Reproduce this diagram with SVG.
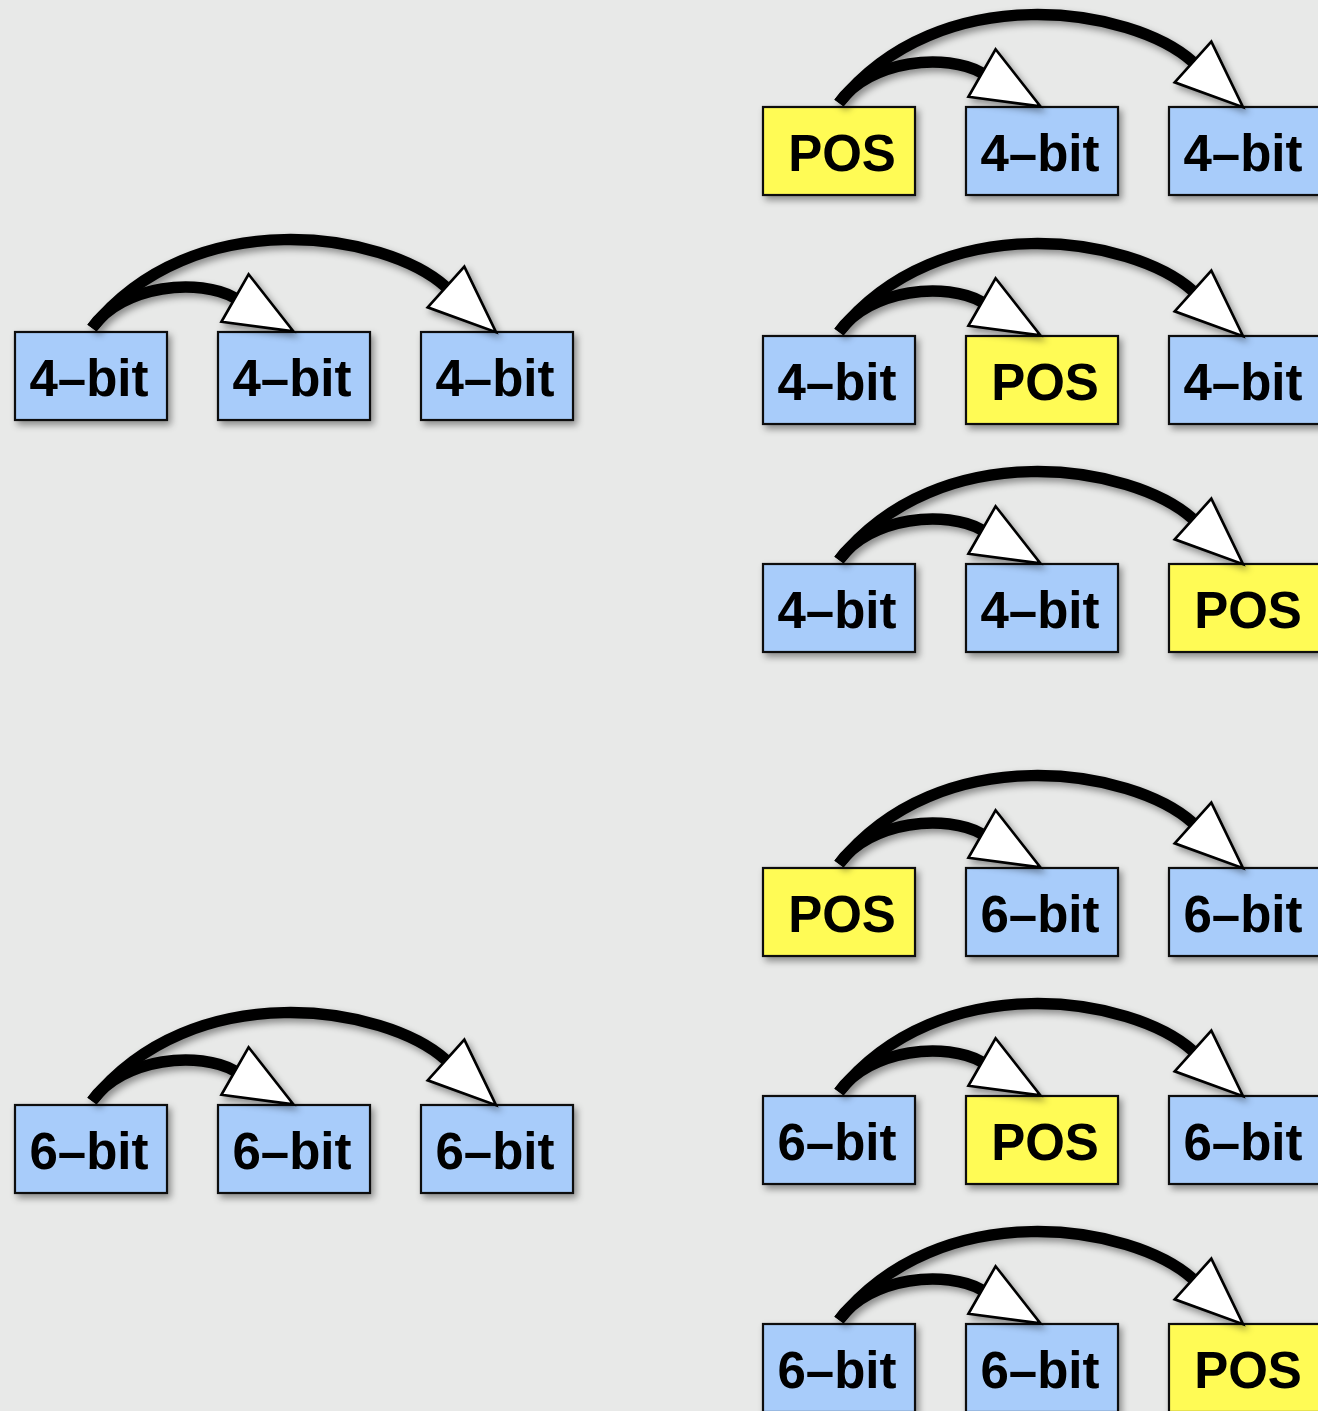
<svg xmlns="http://www.w3.org/2000/svg" width="1318" height="1411" viewBox="0 0 1318 1411">
  <style>
    .box { stroke: #111; stroke-width: 2.2; }
    .bits { fill: #a8ccfa; }
    .pos { fill: #fffb55; }
    .lbl { font-family: "Liberation Sans", Arial, Helvetica, sans-serif; font-weight: bold; font-size: 51px; fill: #000; text-anchor: middle; }
    .arc { fill: none; stroke: #000; stroke-width: 11.5; marker-end: url(#head); }
  </style>
  <defs>
    <filter id="shadow" x="-20%" y="-20%" width="140%" height="140%">
      <feDropShadow dx="3" dy="4" stdDeviation="3.5" flood-color="#000" flood-opacity="0.4"/>
    </filter>
    <marker id="head" markerUnits="userSpaceOnUse" markerWidth="80" markerHeight="70" refX="0" refY="0" viewBox="-4 -32 76 64" orient="auto" overflow="visible">
      <path d="M0,-26 L64,0 L0,26 Z" fill="#fff" stroke="#000" stroke-width="2.5" stroke-linejoin="miter"/>
    </marker>
    <!-- one pair of arcs, drawn from the top of the first box in a row -->
    <g id="arcs">
      <path class="arc" d="M77,-4 C178,-130 370,-100 431,-45"/>
      <path class="arc" d="M77,-4 C108,-48 185,-54 220,-34"/>
    </g>
  </defs>

  <rect width="1318" height="1411" fill="#e8e9e8"/>

  <!-- left column -->
  <g id="L1a" filter="url(#shadow)"><rect class="box bits" x="15" y="332" width="152" height="88"/><text class="lbl" x="89" y="396">4–bit</text></g>
  <g id="L1b" filter="url(#shadow)"><rect class="box bits" x="218" y="332" width="152" height="88"/><text class="lbl" x="292" y="396">4–bit</text></g>
  <g id="L1c" filter="url(#shadow)"><rect class="box bits" x="421" y="332" width="152" height="88"/><text class="lbl" x="495" y="396">4–bit</text></g>

  <g id="L2a" filter="url(#shadow)"><rect class="box bits" x="15" y="1105" width="152" height="88"/><text class="lbl" x="89" y="1169">6–bit</text></g>
  <g id="L2b" filter="url(#shadow)"><rect class="box bits" x="218" y="1105" width="152" height="88"/><text class="lbl" x="292" y="1169">6–bit</text></g>
  <g id="L2c" filter="url(#shadow)"><rect class="box bits" x="421" y="1105" width="152" height="88"/><text class="lbl" x="495" y="1169">6–bit</text></g>

  <!-- right column, 4-bit rows -->
  <g id="R1a" filter="url(#shadow)"><rect class="box pos" x="763" y="107" width="152" height="88"/><text class="lbl" x="842" y="171">POS</text></g>
  <g id="R1b" filter="url(#shadow)"><rect class="box bits" x="966" y="107" width="152" height="88"/><text class="lbl" x="1040" y="171">4–bit</text></g>
  <g id="R1c" filter="url(#shadow)"><rect class="box bits" x="1169" y="107" width="152" height="88"/><text class="lbl" x="1243" y="171">4–bit</text></g>

  <g id="R2a" filter="url(#shadow)"><rect class="box bits" x="763" y="336" width="152" height="88"/><text class="lbl" x="837" y="400">4–bit</text></g>
  <g id="R2b" filter="url(#shadow)"><rect class="box pos" x="966" y="336" width="152" height="88"/><text class="lbl" x="1045" y="400">POS</text></g>
  <g id="R2c" filter="url(#shadow)"><rect class="box bits" x="1169" y="336" width="152" height="88"/><text class="lbl" x="1243" y="400">4–bit</text></g>

  <g id="R3a" filter="url(#shadow)"><rect class="box bits" x="763" y="564" width="152" height="88"/><text class="lbl" x="837" y="628">4–bit</text></g>
  <g id="R3b" filter="url(#shadow)"><rect class="box bits" x="966" y="564" width="152" height="88"/><text class="lbl" x="1040" y="628">4–bit</text></g>
  <g id="R3c" filter="url(#shadow)"><rect class="box pos" x="1169" y="564" width="152" height="88"/><text class="lbl" x="1248" y="628">POS</text></g>

  <!-- right column, 6-bit rows -->
  <g id="R4a" filter="url(#shadow)"><rect class="box pos" x="763" y="868" width="152" height="88"/><text class="lbl" x="842" y="932">POS</text></g>
  <g id="R4b" filter="url(#shadow)"><rect class="box bits" x="966" y="868" width="152" height="88"/><text class="lbl" x="1040" y="932">6–bit</text></g>
  <g id="R4c" filter="url(#shadow)"><rect class="box bits" x="1169" y="868" width="152" height="88"/><text class="lbl" x="1243" y="932">6–bit</text></g>

  <g id="R5a" filter="url(#shadow)"><rect class="box bits" x="763" y="1096" width="152" height="88"/><text class="lbl" x="837" y="1160">6–bit</text></g>
  <g id="R5b" filter="url(#shadow)"><rect class="box pos" x="966" y="1096" width="152" height="88"/><text class="lbl" x="1045" y="1160">POS</text></g>
  <g id="R5c" filter="url(#shadow)"><rect class="box bits" x="1169" y="1096" width="152" height="88"/><text class="lbl" x="1243" y="1160">6–bit</text></g>

  <g id="R6a" filter="url(#shadow)"><rect class="box bits" x="763" y="1324" width="152" height="88"/><text class="lbl" x="837" y="1388">6–bit</text></g>
  <g id="R6b" filter="url(#shadow)"><rect class="box bits" x="966" y="1324" width="152" height="88"/><text class="lbl" x="1040" y="1388">6–bit</text></g>
  <g id="R6c" filter="url(#shadow)"><rect class="box pos" x="1169" y="1324" width="152" height="88"/><text class="lbl" x="1248" y="1388">POS</text></g>

  <!-- connectors: each row's first box points to the other two -->
  <g id="connectors" filter="url(#shadow)">
    <use href="#arcs" transform="translate(15,332)"/>
    <use href="#arcs" transform="translate(15,1105)"/>
    <use href="#arcs" transform="translate(762,107)"/>
    <use href="#arcs" transform="translate(762,336)"/>
    <use href="#arcs" transform="translate(762,564)"/>
    <use href="#arcs" transform="translate(762,868)"/>
    <use href="#arcs" transform="translate(762,1096)"/>
    <use href="#arcs" transform="translate(762,1324)"/>
  </g>
</svg>
